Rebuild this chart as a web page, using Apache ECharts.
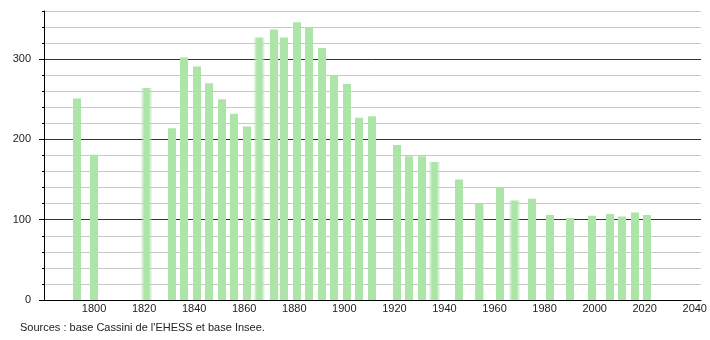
<!DOCTYPE html>
<html>
<head>
<meta charset="utf-8">
<script src="https://cdn.jsdelivr.net/npm/echarts@6/dist/echarts.min.js"></script>
<style>
html,body{margin:0;padding:0;background:#fff;}
#c{width:710px;height:340px;}
</style>
</head>
<body>
<div id="c"></div>
<script>
// Census years and population values
var years = [1793, 1800, 1821, 1831, 1836, 1841, 1846, 1851, 1856, 1861, 1866, 1872, 1876, 1881, 1886, 1891, 1896, 1901, 1906, 1911, 1921, 1926, 1931, 1936, 1946, 1954, 1962, 1968, 1975, 1982, 1990, 1999, 2006, 2011, 2016, 2021];
var population = [251, 181, 264, 214, 302, 291, 270, 250, 232, 216, 327, 337, 327, 346, 340, 314, 280, 269, 227, 229, 193, 179, 179, 172, 150, 120, 140, 124, 126, 106, 102, 105, 107, 104, 109, 106];
// Years drawn with a soft (blurred) bar
var softYears = [1821, 1866, 1936, 1968];
var xTickLabels = [1800, 1820, 1840, 1860, 1880, 1900, 1920, 1940, 1960, 1980, 2000, 2020, 2040];
var yTickLabels = [0, 100, 200, 300];
var sourceText = "Sources : base Cassini de l'EHESS et base Insee.";

var GREEN = '#ade5a9';
var CLEAR = 'rgba(173,229,169,0)';
var sharpFill = {type:'linear', x:0, y:0, x2:1, y2:0, colorStops:[
  {offset:0, color:CLEAR},{offset:0.166, color:CLEAR},
  {offset:0.167, color:GREEN},{offset:0.833, color:GREEN},
  {offset:0.834, color:CLEAR},{offset:1, color:CLEAR}]};
var softFill = {type:'linear', x:0, y:0, x2:1, y2:0, colorStops:[
  {offset:0, color:CLEAR},{offset:0.3, color:GREEN},
  {offset:0.7, color:GREEN},{offset:1, color:CLEAR}]};

var data = years.map(function(y, i){
  return {value:[y, population[i]], itemStyle:{color: softYears.indexOf(y) >= 0 ? softFill : sharpFill}};
});

var FONT = '"Liberation Sans", Arial, sans-serif';
var chart = echarts.init(document.getElementById('c'), null, {renderer:'canvas'});
chart.setOption({
  animation:false,
  backgroundColor:'#fff',
  title:{text:sourceText, left:20, top:322, padding:0,
    textStyle:{fontSize:11, fontWeight:'normal', color:'#222', fontFamily:FONT}},
  grid:[
    {left:44, right:9, top:11, bottom:40},
    {left:44, right:9, top:59.17, bottom:40}
  ],
  xAxis:[
    {type:'value', gridIndex:0, min:1780, max:2042.5, interval:20,
      axisLine:{show:true, lineStyle:{color:'#000', width:1}},
      axisTick:{show:false},
      splitLine:{show:false},
      axisLabel:{showMinLabel:false, showMaxLabel:false, margin:3,
        fontSize:11, color:'#222', fontFamily:FONT,
        formatter:function(v){ return xTickLabels.indexOf(v) >= 0 ? String(v) : ''; }}},
    {type:'value', gridIndex:1, min:1780, max:2042.5, show:false}
  ],
  yAxis:[
    {type:'value', gridIndex:0, min:0, max:360, interval:20,
      axisLine:{show:true, lineStyle:{color:'#000', width:1}},
      axisTick:{show:true, length:2, lineStyle:{color:'#000'}},
      splitLine:{show:true, lineStyle:{width:1, color:['#333','#c8c8c8','#c8c8c8','#c8c8c8','#c8c8c8']}},
      axisLabel:{margin:13, fontSize:11, color:'#222', fontFamily:FONT,
        formatter:function(v){ return yTickLabels.indexOf(v) >= 0 ? String(v) : ''; }}},
    {type:'value', gridIndex:1, min:0, max:300, interval:100,
      axisLine:{show:false},
      axisTick:{show:true, length:5, lineStyle:{color:'#000'}},
      splitLine:{show:false},
      axisLabel:{show:false}}
  ],
  series:[
    {type:'bar', xAxisIndex:0, yAxisIndex:0, barWidth:12, data:data, z:1}
  ]
});
</script>
</body>
</html>
